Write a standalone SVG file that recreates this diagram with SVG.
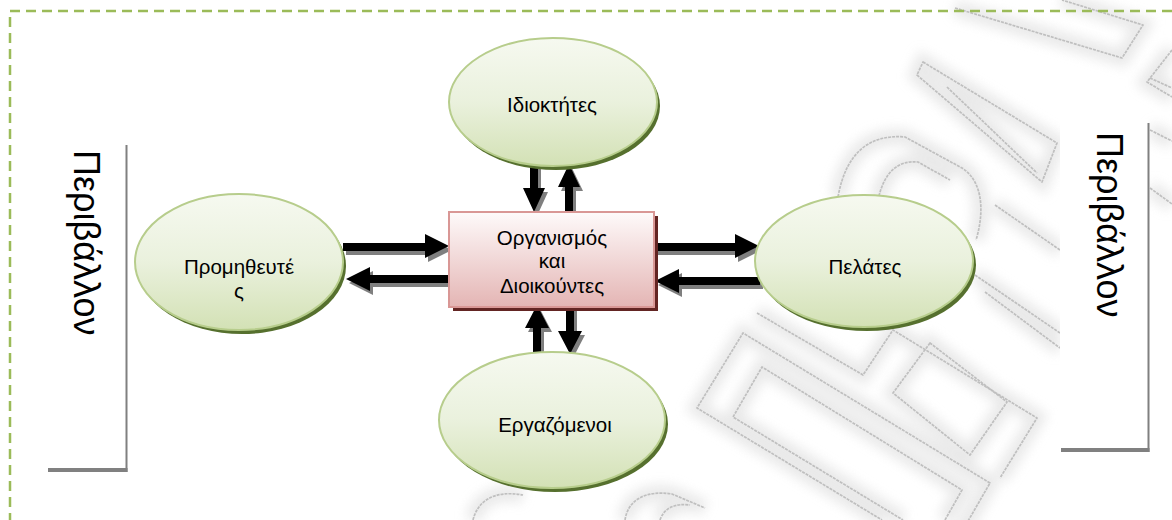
<svg xmlns="http://www.w3.org/2000/svg" xmlns:xlink="http://www.w3.org/1999/xlink" width="1172" height="520" viewBox="0 0 1172 520">
  <style>
    .txt { font-family: "Liberation Sans", Arial, sans-serif; font-size: 20.5px; fill: #000; text-anchor: middle; }
    .side { font-family: "Liberation Sans", Arial, sans-serif; font-size: 36px; fill: #000; }
    .ell { fill: url(#gEll); stroke: #b7cd8c; stroke-width: 2; }
    .ell-sh { fill: #56702e; }
    .arr { fill: #000; }
    .arr-sh { fill: #7f7f7f; }
    .edge { stroke: #808080; fill: none; }
    .wm-line { fill: none; stroke: #bfbfbf; stroke-width: 1.7; stroke-linejoin: round; stroke-dasharray: 3 1; }
    .wm-halo { fill: none; stroke: #e4e4e4; stroke-width: 16; opacity: 0.8; }
  </style>
  <defs>
    <linearGradient id="gEll" x1="0" y1="0" x2="0" y2="1">
      <stop offset="0" stop-color="#f6f9f0"/>
      <stop offset="0.5" stop-color="#eaf1dd"/>
      <stop offset="1" stop-color="#d3e1b5"/>
    </linearGradient>
    <linearGradient id="gRect" x1="0" y1="0" x2="0" y2="1">
      <stop offset="0" stop-color="#fefafa"/>
      <stop offset="1" stop-color="#e4b5b4"/>
    </linearGradient>
    <filter id="soft" x="-20%" y="-20%" width="140%" height="140%">
      <feGaussianBlur stdDeviation="6"/>
    </filter>
    <!-- background logo outlines -->
    <g id="logo">
      <path d="M923,62 L1057,143 L1042,182 L917,75 Z"/>
      <path d="M947,87 L1037,173"/>
      <path d="M955,8 L1122,58 L1143,25 L1062,0"/>
      <path d="M1172,50 L1147,82 L1172,97"/>
      <path d="M838,197 C846,152 870,134 905,137 L962,168 C984,182 984,214 976,240"/>
      <path d="M878,200 C884,172 898,160 918,162 L950,180"/>
      <path d="M757,313 L863,375 L893,330 L1037,418 L1000,478"/>
      <path d="M930,343 L893,393 L970,455 L1007,402 Z"/>
      <path d="M960,535 L990,483 L743,333 L697,408 L882,520"/>
      <path d="M945,520 L962,490 L762,367 L733,417 L903,520"/>
      <path d="M995,205 L1060,250"/>
      <path d="M975,275 L1060,333"/>
      <path d="M985,292 L1060,348"/>
      <path d="M1150,78 L1172,88"/>
      <path d="M1150,130 L1172,141"/>
      <path d="M1150,188 L1172,204"/>
      <path d="M473,520 C478,500 495,490 523,495"/>
      <path d="M625,520 C628,500 645,490 672,494 L705,508"/>
      <path d="M660,520 C664,508 675,503 690,505"/>
    </g>
  </defs>

  <rect width="1172" height="520" fill="#fff"/>

  <!-- background logo -->
  <g id="watermark">
    <use xlink:href="#logo" class="wm-halo" filter="url(#soft)"/>
    <use xlink:href="#logo" class="wm-line"/>
  </g>

  <!-- dashed frame -->
  <rect x="10" y="11" width="1200" height="600" fill="none" stroke="#9bbb59" stroke-width="2.5" stroke-dasharray="10 6"/>

  <!-- side labels -->
  <g id="label-left">
    <rect x="47" y="143" width="79" height="327" fill="#fff"/>
    <path class="edge" stroke-width="2" d="M126.5,145 V472"/>
    <path class="edge" stroke-width="4" d="M48,470 H127.5"/>
    <text class="side" transform="translate(74,150) rotate(90)">Περιβάλλον</text>
  </g>
  <g id="label-right">
    <rect x="1060" y="119" width="88" height="331" fill="#fff"/>
    <path class="edge" stroke-width="2" d="M1148.5,123 V452"/>
    <path class="edge" stroke-width="4" d="M1061,450 H1149.5"/>
    <text class="side" transform="translate(1097,132) rotate(90)">Περιβάλλον</text>
  </g>

  <!-- connectors -->
  <g id="connectors">
    <g transform="translate(3,4)" class="arr-sh">
      <polygon points="530,163 538,163 538,188 545,188 534,212 523,188 530,188"/>
      <polygon points="565,212 573,212 573,187 580,187 569,164 558,187 565,187"/>
      <polygon points="343,243 425,243 425,234 449,246 425,258 425,251 343,251"/>
      <polygon points="450,275 370,275 370,267 346,279 370,291 370,283 450,283"/>
      <polygon points="654,243 735,243 735,234 759,246 735,258 735,251 654,251"/>
      <polygon points="760,277 679,277 679,269 655,281 679,293 679,285 760,285"/>
      <polygon points="533,353 541,353 541,328 549,328 537,305 525,328 533,328"/>
      <polygon points="566,307 574,307 574,331 582,331 570,354 558,331 566,331"/>
    </g>
    <g class="arr">
      <polygon points="530,163 538,163 538,188 545,188 534,212 523,188 530,188"/>
      <polygon points="565,212 573,212 573,187 580,187 569,164 558,187 565,187"/>
      <polygon points="343,243 425,243 425,234 449,246 425,258 425,251 343,251"/>
      <polygon points="450,275 370,275 370,267 346,279 370,291 370,283 450,283"/>
      <polygon points="654,243 735,243 735,234 759,246 735,258 735,251 654,251"/>
      <polygon points="760,277 679,277 679,269 655,281 679,293 679,285 760,285"/>
      <polygon points="533,353 541,353 541,328 549,328 537,305 525,328 533,328"/>
      <polygon points="566,307 574,307 574,331 582,331 570,354 558,331 566,331"/>
    </g>
  </g>

  <!-- nodes -->
  <g id="node-idioktites">
    <ellipse class="ell-sh" cx="556" cy="106" rx="104" ry="64"/>
    <ellipse class="ell" cx="553" cy="102" rx="104" ry="64"/>
    <text class="txt" x="552" y="112">Ιδιοκτήτες</text>
  </g>

  <g id="node-promitheutes">
    <ellipse class="ell-sh" cx="242" cy="266" rx="104" ry="68"/>
    <ellipse class="ell" cx="239" cy="262" rx="104" ry="68"/>
    <text class="txt" x="239" y="274">Προμηθευτέ</text>
    <text class="txt" x="239" y="298">ς</text>
  </g>

  <g id="node-organismos">
    <rect x="453" y="216" width="205" height="95" fill="#632523"/>
    <rect x="449" y="212" width="205" height="95" fill="url(#gRect)" stroke="#d99795" stroke-width="2"/>
    <text class="txt" x="552" y="245">Οργανισμός</text>
    <text class="txt" x="552" y="268">και</text>
    <text class="txt" x="552" y="293">Διοικούντες</text>
  </g>

  <g id="node-pelates">
    <ellipse class="ell-sh" cx="867" cy="265" rx="109" ry="66"/>
    <ellipse class="ell" cx="864" cy="261" rx="109" ry="66"/>
    <text class="txt" x="865" y="274">Πελάτες</text>
  </g>

  <g id="node-ergazomenoi">
    <ellipse class="ell-sh" cx="555" cy="424" rx="113" ry="68"/>
    <ellipse class="ell" cx="552" cy="420" rx="113" ry="68"/>
    <text class="txt" x="555" y="432">Εργαζόμενοι</text>
  </g>
</svg>
